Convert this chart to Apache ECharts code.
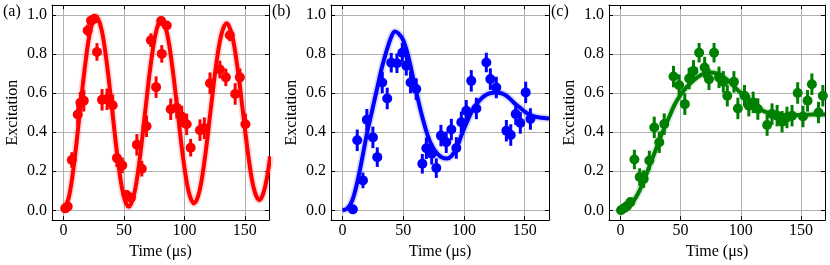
<!DOCTYPE html>
<html><head><meta charset="utf-8">
<script src="https://cdn.jsdelivr.net/npm/echarts@6/dist/echarts.min.js"></script>
<style>html,body{margin:0;padding:0;background:#fff}#c{width:830px;height:265px}</style>
</head><body><div id="c"></div>
<script>
// Panel (a)
const aX = [1.5, 3.5, 6.9, 11.8, 14, 16.8, 20, 22.8, 25.5, 27.7, 31.9, 36, 40.7, 44.2, 48.6, 52.2, 55.8, 60.7, 64.8, 68.7, 72.3, 76.6, 80.8, 81.3, 85.4, 88.7, 93.7, 97.8, 101.9, 105.2, 112.9, 116.5, 121.2, 129.4, 134.3, 137.6, 142, 145.9, 150.5];
const aY = [0.01, 0.02, 0.257, 0.49, 0.55, 0.56, 0.92, 0.97, 0.98, 0.81, 0.565, 0.568, 0.537, 0.267, 0.23, 0.078, 0.064, 0.335, 0.213, 0.43, 0.87, 0.63, 0.968, 0.80, 0.945, 0.517, 0.525, 0.48, 0.44, 0.32, 0.41, 0.42, 0.65, 0.72, 0.68, 0.895, 0.595, 0.68, 0.44];
const aErr = [0.01, 0.015, 0.04, 0.055, 0.055, 0.055, 0.03, 0.02, 0.015, 0.045, 0.055, 0.055, 0.055, 0.045, 0.04, 0.025, 0.025, 0.055, 0.04, 0.055, 0.035, 0.055, 0.02, 0.045, 0.02, 0.055, 0.055, 0.055, 0.055, 0.045, 0.055, 0.055, 0.055, 0.045, 0.045, 0.03, 0.055, 0.045, 0.055];
const aFitX = [0, 4.5, 9, 13.5, 18, 22.5, 27, 31.5, 36, 40.5, 45, 49.5, 54, 58.5, 63, 67.5, 72, 76.5, 81, 85.5, 90, 94.5, 99, 103.5, 108, 112.5, 117, 121.5, 126, 130.5, 135, 139.5, 144, 148.5, 153, 157.5, 162, 166.5, 171];
const aFitY = [0.000, 0.068, 0.252, 0.500, 0.747, 0.927, 0.991, 0.924, 0.744, 0.500, 0.257, 0.081, 0.018, 0.084, 0.260, 0.500, 0.738, 0.911, 0.974, 0.909, 0.735, 0.500, 0.266, 0.096, 0.035, 0.098, 0.269, 0.500, 0.730, 0.897, 0.957, 0.894, 0.727, 0.500, 0.274, 0.110, 0.052, 0.113, 0.276];

// Panel (b)
const bX = [8.5, 12.1, 16.8, 20, 25, 28.6, 32.7, 36.8, 40.1, 44.8, 49.2, 52.5, 56, 60.7, 65.7, 69, 73.4, 77.2, 81, 85.4, 89.6, 93.7, 97.8, 101.9, 106, 110.2, 118.4, 121.7, 126.6, 134.9, 138.5, 142.6, 146.4, 150.8, 154.7];
const bY = [0.005, 0.358, 0.153, 0.463, 0.373, 0.272, 0.654, 0.572, 0.755, 0.752, 0.806, 0.739, 0.654, 0.62, 0.238, 0.317, 0.289, 0.216, 0.382, 0.348, 0.413, 0.319, 0.45, 0.509, 0.662, 0.521, 0.756, 0.671, 0.628, 0.407, 0.385, 0.492, 0.447, 0.603, 0.467];
const bErr = [0.01, 0.055, 0.04, 0.055, 0.055, 0.05, 0.055, 0.055, 0.05, 0.05, 0.05, 0.05, 0.055, 0.055, 0.05, 0.055, 0.055, 0.05, 0.055, 0.055, 0.055, 0.055, 0.055, 0.055, 0.055, 0.055, 0.05, 0.055, 0.055, 0.055, 0.055, 0.055, 0.055, 0.055, 0.055];
const bFitX = [0, 4, 8, 12, 16, 20, 24, 28, 32, 36, 40, 43, 46, 50, 54, 58, 62, 66, 70, 74, 78, 82, 86, 90, 94, 98, 102, 106, 110, 114, 118, 122, 126, 130, 134, 138, 142, 146, 150, 154, 158, 162, 166, 170];
const bFitY = [0.0, 0.01, 0.05, 0.14, 0.26, 0.39, 0.50, 0.61, 0.72, 0.81, 0.885, 0.915, 0.905, 0.87, 0.79, 0.68, 0.57, 0.47, 0.385, 0.325, 0.29, 0.27, 0.265, 0.28, 0.32, 0.385, 0.445, 0.50, 0.54, 0.57, 0.59, 0.60, 0.603, 0.60, 0.59, 0.57, 0.545, 0.525, 0.505, 0.49, 0.48, 0.475, 0.472, 0.47];

// Panel (c)
const cX = [0.5, 3.3, 5.5, 8.3, 11.6, 16, 19.3, 24, 28.1, 32.3, 36.4, 44.1, 48.8, 53.5, 57.1, 60.7, 65.4, 70, 73.6, 77.8, 81.9, 85.5, 88.8, 94.3, 97.6, 103.1, 106.7, 110.3, 114.2, 121.9, 126, 130.2, 134.3, 138.4, 142.6, 147.3, 151.7, 155.5, 159.1, 164.6, 168.2];
const cY = [0.0, 0.012, 0.022, 0.042, 0.26, 0.17, 0.16, 0.255, 0.424, 0.348, 0.441, 0.684, 0.64, 0.543, 0.674, 0.713, 0.806, 0.73, 0.67, 0.806, 0.68, 0.657, 0.586, 0.657, 0.521, 0.586, 0.535, 0.552, 0.518, 0.436, 0.492, 0.484, 0.453, 0.475, 0.484, 0.6, 0.48, 0.56, 0.645, 0.50, 0.586];
const cErr = [0.005, 0.01, 0.015, 0.02, 0.05, 0.045, 0.045, 0.05, 0.055, 0.055, 0.055, 0.055, 0.055, 0.055, 0.055, 0.055, 0.05, 0.055, 0.055, 0.05, 0.055, 0.055, 0.055, 0.055, 0.055, 0.055, 0.055, 0.055, 0.055, 0.055, 0.055, 0.055, 0.055, 0.055, 0.055, 0.055, 0.055, 0.055, 0.055, 0.055, 0.055];
const cFitX = [0, 5, 10, 15, 20, 25, 30, 35, 40, 45, 50, 55, 60, 65, 70, 75, 80, 85, 90, 95, 100, 105, 110, 115, 120, 125, 130, 140, 150, 160, 170];
const cFitY = [0.0, 0.01, 0.04, 0.09, 0.16, 0.24, 0.32, 0.40, 0.47, 0.54, 0.59, 0.63, 0.66, 0.685, 0.70, 0.705, 0.70, 0.685, 0.66, 0.63, 0.60, 0.57, 0.545, 0.52, 0.505, 0.495, 0.49, 0.487, 0.487, 0.49, 0.49];

const xTickLabels = ['0', '50', '100', '150'];
const yTickLabels = ['0.0', '0.2', '0.4', '0.6', '0.8', '1.0'];
const panelLabels = ['(a)', '(b)', '(c)'];

const panels = [
  {x: aX, y: aY, e: aErr, fx: aFitX, fy: aFitY, color: '#ff0000', grid: {left: 52, top: 5, width: 217, height: 216}, lab: 3},
  {x: bX, y: bY, e: bErr, fx: bFitX, fy: bFitY, color: '#0000ff', grid: {left: 331, top: 5, width: 218, height: 216}, lab: 272},
  {x: cX, y: cY, e: cErr, fx: cFitX, fy: cFitY, color: '#008000', grid: {left: 609, top: 5, width: 216, height: 216}, lab: 551}
];

const FONT = 'Liberation Serif, Times New Roman, serif';
const chart = echarts.init(document.getElementById('c'), null, {renderer: 'canvas'});
const grid = [], xAxis = [], yAxis = [], series = [], graphic = [];
const xFmt = v => xTickLabels.indexOf(String(Math.round(v))) >= 0 && Math.abs(v - Math.round(v)) < 1e-6 ? String(Math.round(v)) : '';
const yFmt = v => { const s = v.toFixed(1); return (Math.abs(v * 5 - Math.round(v * 5)) < 1e-6 && yTickLabels.indexOf(s) >= 0) ? s : ''; };

panels.forEach((p, i) => {
  grid.push(Object.assign({containLabel: false}, p.grid));
  const common = {min: -9.5, max: 170, splitNumber: 4};
  xAxis.push(Object.assign({type: 'value', gridIndex: i, position: 'bottom',
    name: 'Time (μs)', nameLocation: 'middle', nameGap: 20,
    nameTextStyle: {fontFamily: FONT, fontSize: 16, color: '#000'},
    axisLine: {show: true, onZero: false, lineStyle: {color: '#000', width: 1}},
    axisTick: {show: true, inside: true, length: 4, lineStyle: {color: '#000'}},
    axisLabel: {show: true, margin: 3, fontFamily: FONT, fontSize: 16, color: '#000', formatter: xFmt, showMinLabel: false, showMaxLabel: false},
    splitLine: {show: true, lineStyle: {color: '#b0b0b0', width: 1}}}, common));
  xAxis.push(Object.assign({type: 'value', gridIndex: i, position: 'top',
    axisLine: {show: true, onZero: false, lineStyle: {color: '#000', width: 1}},
    axisTick: {show: true, inside: true, length: 4, lineStyle: {color: '#000'}},
    axisLabel: {show: false}, splitLine: {show: false}}, common));
  const ycommon = {min: -0.05, max: 1.05, splitNumber: 5};
  yAxis.push(Object.assign({type: 'value', gridIndex: i, position: 'left',
    name: 'Excitation', nameLocation: 'middle', nameGap: 31, nameRotate: 90,
    nameTextStyle: {fontFamily: FONT, fontSize: 16, color: '#000'},
    axisLine: {show: true, onZero: false, lineStyle: {color: '#000', width: 1}},
    axisTick: {show: true, inside: true, length: 4, lineStyle: {color: '#000'}},
    axisLabel: {show: true, margin: 5, fontFamily: FONT, fontSize: 16, color: '#000', formatter: yFmt, showMinLabel: false, showMaxLabel: false},
    splitLine: {show: true, lineStyle: {color: '#b0b0b0', width: 1}}}, ycommon));
  yAxis.push(Object.assign({type: 'value', gridIndex: i, position: 'right',
    axisLine: {show: true, onZero: false, lineStyle: {color: '#000', width: 1}},
    axisTick: {show: true, inside: true, length: 4, lineStyle: {color: '#000'}},
    axisLabel: {show: false}, splitLine: {show: false}}, ycommon));

  const fit = p.fx.map((x, k) => [x, p.fy[k]]);
  const pts = p.x.map((x, k) => [x, p.y[k], p.e[k]]);
  series.push({type: 'line', xAxisIndex: 2 * i, yAxisIndex: 2 * i, data: fit, smooth: 0.35, symbol: 'none', clip: true,
    lineStyle: {color: p.color, width: 7.5, opacity: 0.15}, z: 2, silent: true, animation: false});
  series.push({type: 'line', xAxisIndex: 2 * i, yAxisIndex: 2 * i, data: fit, smooth: 0.35, symbol: 'none', clip: true,
    lineStyle: {color: p.color, width: 4}, z: 3, silent: true, animation: false});
  series.push({type: 'custom', xAxisIndex: 2 * i, yAxisIndex: 2 * i, data: pts, z: 4, animation: false, clip: true,
    renderItem: (params, api) => {
      const x = api.value(0), y = api.value(1), e = api.value(2);
      const p1 = api.coord([x, y - e]), p2 = api.coord([x, y + e]);
      return {type: 'line', shape: {x1: p1[0], y1: p1[1], x2: p2[0], y2: p2[1]}, style: {stroke: p.color, lineWidth: 3}};
    }});
  series.push({type: 'scatter', xAxisIndex: 2 * i, yAxisIndex: 2 * i, data: pts.map(d => [d[0], d[1]]), symbol: 'circle', symbolSize: 10,
    itemStyle: {color: p.color, opacity: 1}, z: 5, animation: false});
  graphic.push({type: 'text', left: p.lab, top: 4, style: {text: panelLabels[i], font: '16px ' + FONT, fill: '#000'}});
});

chart.setOption({animation: false, grid, xAxis, yAxis, series, graphic});
</script>
</body></html>
